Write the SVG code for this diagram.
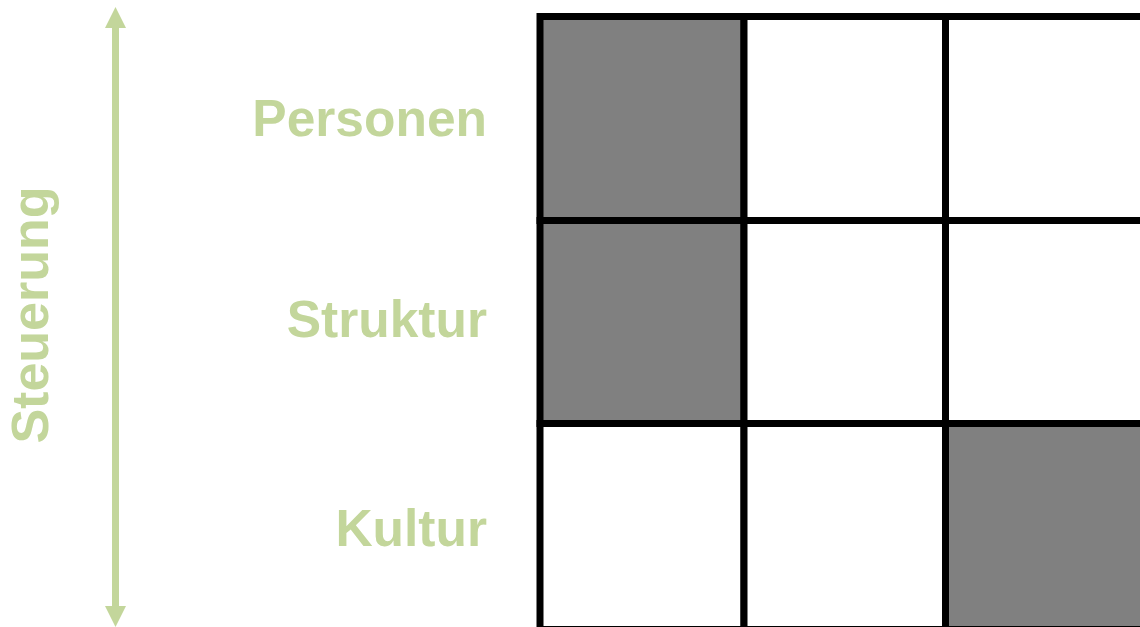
<svg xmlns="http://www.w3.org/2000/svg" width="1140" height="627" viewBox="0 0 1140 627">
  <style>
    .lbl { font-family: "Liberation Sans", Arial, sans-serif; font-weight: bold; font-size: 51.5px; fill: #c3d69b; }
    .ax { font-size: 52px; }
    .cell { stroke: #000; stroke-width: 7; }
    .on { fill: #808080; }
    .off { fill: #ffffff; }
  </style>
  <defs>
    <marker id="ah" viewBox="0 0 21 21" refX="0" refY="10.5" markerWidth="21" markerHeight="21" markerUnits="userSpaceOnUse" orient="auto">
      <path d="M0,0 L21,10.5 L0,21 Z" fill="#c3d69b"/>
    </marker>
  </defs>
  <rect width="1140" height="627" fill="#ffffff"/>
  <g id="connectors">
    <line x1="115.5" y1="604" x2="115.5" y2="28" stroke="#c3d69b" stroke-width="7" marker-end="url(#ah)"/>
    <line x1="115.5" y1="28" x2="115.5" y2="606" stroke="#c3d69b" stroke-width="7" marker-end="url(#ah)"/>
  </g>
  <g id="axis-label">
    <text class="lbl ax" transform="translate(48,315) rotate(-90)" text-anchor="middle">Steuerung</text>
  </g>
  <g id="row-labels">
    <text class="lbl" x="487" y="136" text-anchor="end">Personen</text>
    <text class="lbl" x="487" y="337" text-anchor="end">Struktur</text>
    <text class="lbl" x="487" y="546" text-anchor="end">Kultur</text>
  </g>
  <g id="grid">
    <rect id="c11" class="cell on" x="540" y="16.5" width="204" height="204"/>
    <rect id="c12" class="cell off" x="744" y="16.5" width="201.5" height="204"/>
    <rect id="c13" class="cell off" x="945.5" y="16.5" width="201.5" height="204"/>
    <rect id="c21" class="cell on" x="540" y="220.5" width="204" height="203"/>
    <rect id="c22" class="cell off" x="744" y="220.5" width="201.5" height="203"/>
    <rect id="c23" class="cell off" x="945.5" y="220.5" width="201.5" height="203"/>
    <rect id="c31" class="cell off" x="540" y="423.5" width="204" height="206"/>
    <rect id="c32" class="cell off" x="744" y="423.5" width="201.5" height="206"/>
    <rect id="c33" class="cell on" x="945.5" y="423.5" width="201.5" height="206"/>
  </g>
</svg>
